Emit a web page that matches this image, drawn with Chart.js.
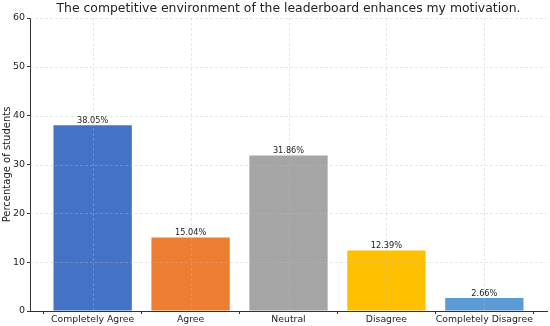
<!DOCTYPE html>
<html>
<head>
<meta charset="utf-8">
<script src="https://cdn.jsdelivr.net/npm/chart.js@4.4.0/dist/chart.umd.min.js"></script>
<style>
  html, body { margin: 0; padding: 0; background: #fff; }
  #wrap { width: 550px; height: 326px; }
</style>
</head>
<body>
<div id="wrap"><canvas id="chart"></canvas></div>
<script>
const categories = ['Completely Agree', 'Agree', 'Neutral', 'Disagree', 'Completely Disagree'];
const percentages = [38.05, 15.04, 31.86, 12.39, 2.66];
const barColors = ['#4472C4', '#ED7D31', '#A5A5A5', '#FFC000', '#5B9BD5'];
const yTicks = [0, 10, 20, 30, 40, 50, 60];
const titleText = 'The competitive environment of the leaderboard enhances my motivation.';

const font = "'DejaVu Sans', sans-serif";

// grid sits on top of the bars, like matplotlib's; title centred over the plot
const extras = {
  id: 'extras',
  afterDatasetsDraw(chart) {
    const ctx = chart.ctx, area = chart.chartArea;
    const xs = chart.scales.x, ys = chart.scales.y;
    ctx.save();
    ctx.strokeStyle = 'rgba(190,190,190,0.45)';
    ctx.lineWidth = 0.8;
    ctx.setLineDash([3, 2]);
    yTicks.forEach(v => {
      if (v === 0) return;
      const y = Math.round(ys.getPixelForValue(v)) + 0.5;
      ctx.beginPath(); ctx.moveTo(area.left, y); ctx.lineTo(area.right, y); ctx.stroke();
    });
    categories.forEach((c, i) => {
      const x = Math.round(xs.getPixelForValue(i)) + 0.5;
      ctx.beginPath(); ctx.moveTo(x, area.top); ctx.lineTo(x, area.bottom); ctx.stroke();
    });
    ctx.restore();

    // value labels
    ctx.save();
    ctx.font = '8.2px ' + font;
    ctx.fillStyle = '#222';
    ctx.textAlign = 'center';
    ctx.textBaseline = 'bottom';
    chart.getDatasetMeta(0).data.forEach((bar, i) => {
      ctx.fillText(percentages[i].toFixed(2) + '%', bar.x, bar.y - 0.5);
    });
    ctx.restore();

    // title
    ctx.save();
    ctx.font = '12.4px ' + font;
    ctx.fillStyle = '#222';
    ctx.textAlign = 'center';
    ctx.textBaseline = 'middle';
    ctx.fillText(titleText, (area.left + area.right) / 2, 9);
    ctx.restore();
  }
};

new Chart(document.getElementById('chart'), {
  type: 'bar',
  data: {
    datasets: [{
      data: percentages.map((v, i) => ({ x: i, y: v })),
      backgroundColor: barColors,
      categoryPercentage: 0.8,
      barPercentage: 1.0,
      borderWidth: 0
    }]
  },
  options: {
    responsive: true,
    maintainAspectRatio: false,
    animation: false,
    layout: { padding: { top: 18, right: 3, bottom: 0, left: 0 } },
    plugins: {
      legend: { display: false },
      tooltip: { enabled: false },
      title: { display: false }
    },
    scales: {
      x: {
        type: 'linear',
        min: -0.64,
        max: 4.64,
        offset: false,
        afterBuildTicks: s => { s.ticks = categories.map((c, i) => ({ value: i })); },
        afterFit: s => { s.height = 15; },
        ticks: {
          autoSkip: false,
          maxRotation: 0,
          padding: 0,
          color: '#222',
          font: { family: font, size: 9.3 },
          callback: v => categories[v]
        },
        grid: { drawOnChartArea: false, drawTicks: true, tickLength: 3, tickColor: '#333' },
        border: { display: true, color: '#333', width: 1 }
      },
      y: {
        min: 0,
        max: 60,
        afterBuildTicks: s => { s.ticks = yTicks.map(v => ({ value: v })); },
        afterFit: s => { s.width = 30; },
        ticks: {
          padding: 2,
          color: '#222',
          font: { family: font, size: 9.5 }
        },
        grid: { drawOnChartArea: false, drawTicks: true, tickLength: 3, tickColor: '#333' },
        border: { display: true, color: '#333', width: 1 },
        title: {
          display: true,
          text: 'Percentage of students',
          color: '#222',
          font: { family: font, size: 10 },
          padding: { top: 1, bottom: 0 }
        }
      }
    }
  },
  plugins: [extras]
});
</script>
</body>
</html>
